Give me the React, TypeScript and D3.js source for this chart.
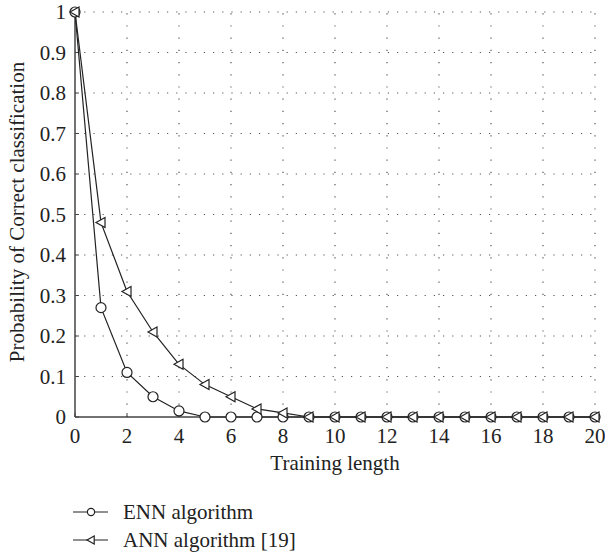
import React from "react";
import * as d3 from "d3";

const xValues = [0, 1, 2, 3, 4, 5, 6, 7, 8, 9, 10, 11, 12, 13, 14, 15, 16, 17, 18, 19, 20];
const ennValues = [1, 0.27, 0.11, 0.05, 0.015, 0, 0, 0, 0, 0, 0, 0, 0, 0, 0, 0, 0, 0, 0, 0, 0];
const annValues = [1, 0.48, 0.31, 0.21, 0.13, 0.08, 0.05, 0.02, 0.01, 0, 0, 0, 0, 0, 0, 0, 0, 0, 0, 0, 0];
const xTicks = [0, 2, 4, 6, 8, 10, 12, 14, 16, 18, 20];
const yTicks = [0, 0.1, 0.2, 0.3, 0.4, 0.5, 0.6, 0.7, 0.8, 0.9, 1];
const yTickLabels = ["0", "0.1", "0.2", "0.3", "0.4", "0.5", "0.6", "0.7", "0.8", "0.9", "1"];
const seriesNames = ["ENN algorithm", "ANN algorithm [19]"];

const textStyle: React.CSSProperties = { fontFamily: '"Liberation Serif", "DejaVu Serif", serif' };

export default function App() {
  const W = 605, H = 554;
  const x = d3.scaleLinear().domain([0, 20]).range([75, 595]);
  const y = d3.scaleLinear().domain([0, 1]).range([417, 12]);
  const line = d3.line<number>().x((_, i) => x(xValues[i])).y((d) => y(d));

  const tri = (cx: number, cy: number, s = 1) =>
    `M${cx - 5 * s},${cy} L${cx + 4 * s},${cy - 5 * s} L${cx + 4 * s},${cy + 5 * s} Z`;

  return (
    <svg width={W} height={H} style={{ position: "absolute", left: 0, top: 0, background: "#fff" }}>
      <rect width={W} height={H} fill="#fff" />
      {yTicks.filter((t) => t > 0).map((t) => (
        <line key={"gy" + t} x1={x(0)} x2={x(20)} y1={y(t)} y2={y(t)} stroke="#555" strokeWidth={1.2} strokeDasharray="1.2,8" />
      ))}
      {xTicks.filter((t) => t > 0).map((t) => (
        <line key={"gx" + t} x1={x(t)} x2={x(t)} y1={y(0)} y2={y(1)} stroke="#555" strokeWidth={1.2} strokeDasharray="1.2,11" />
      ))}
      <line x1={x(0)} x2={x(0)} y1={y(0)} y2={y(1)} stroke="#444" strokeWidth={1.5} />
      <line x1={x(0)} x2={x(20)} y1={y(0)} y2={y(0)} stroke="#444" strokeWidth={1.5} />
      {xTicks.map((t) => (
        <line key={"tx" + t} x1={x(t)} x2={x(t)} y1={y(0)} y2={y(0) - 4} stroke="#444" strokeWidth={1} />
      ))}
      {yTicks.map((t) => (
        <line key={"ty" + t} x1={x(0)} x2={x(0) + 4} y1={y(t)} y2={y(t)} stroke="#444" strokeWidth={1} />
      ))}
      {xTicks.map((t) => (
        <text key={"lx" + t} x={x(t)} y={y(0) + 26} textAnchor="middle" style={textStyle} fontSize={21} fill="#222">
          {t}
        </text>
      ))}
      {yTicks.map((t, i) => (
        <text key={"ly" + t} x={x(0) - 9} y={y(t) + 7} textAnchor="end" style={textStyle} fontSize={21} fill="#222">
          {yTickLabels[i]}
        </text>
      ))}
      <text x={(x(0) + x(20)) / 2} y={470} textAnchor="middle" style={textStyle} fontSize={21} fill="#222">
        Training length
      </text>
      <text transform={`translate(24,${212}) rotate(-90)`} textAnchor="middle" style={textStyle} fontSize={21} fill="#222">
        Probability of Correct classification
      </text>
      <path d={line(ennValues) || ""} fill="none" stroke="#222" strokeWidth={1.2} />
      <path d={line(annValues) || ""} fill="none" stroke="#222" strokeWidth={1.2} />
      {ennValues.map((v, i) => (
        <circle key={"c" + i} cx={x(xValues[i])} cy={y(v)} r={5} fill="#fff" stroke="#222" strokeWidth={1.2} />
      ))}
      {annValues.map((v, i) => (
        <path key={"t" + i} d={tri(x(xValues[i]), y(v))} fill="#fff" stroke="#222" strokeWidth={1.2} />
      ))}
      <g>
        <line x1={73} x2={108} y1={512} y2={512} stroke="#222" strokeWidth={1.2} />
        <circle cx={91} cy={512} r={3.6} fill="#fff" stroke="#222" strokeWidth={1.2} />
        <text x={123} y={519} style={textStyle} fontSize={21} fill="#222">{seriesNames[0]}</text>
        <line x1={73} x2={108} y1={540} y2={540} stroke="#222" strokeWidth={1.2} />
        <path d={tri(91, 540, 0.8)} fill="#fff" stroke="#222" strokeWidth={1.2} />
        <text x={123} y={547} style={textStyle} fontSize={21} fill="#222">{seriesNames[1]}</text>
      </g>
    </svg>
  );
}
